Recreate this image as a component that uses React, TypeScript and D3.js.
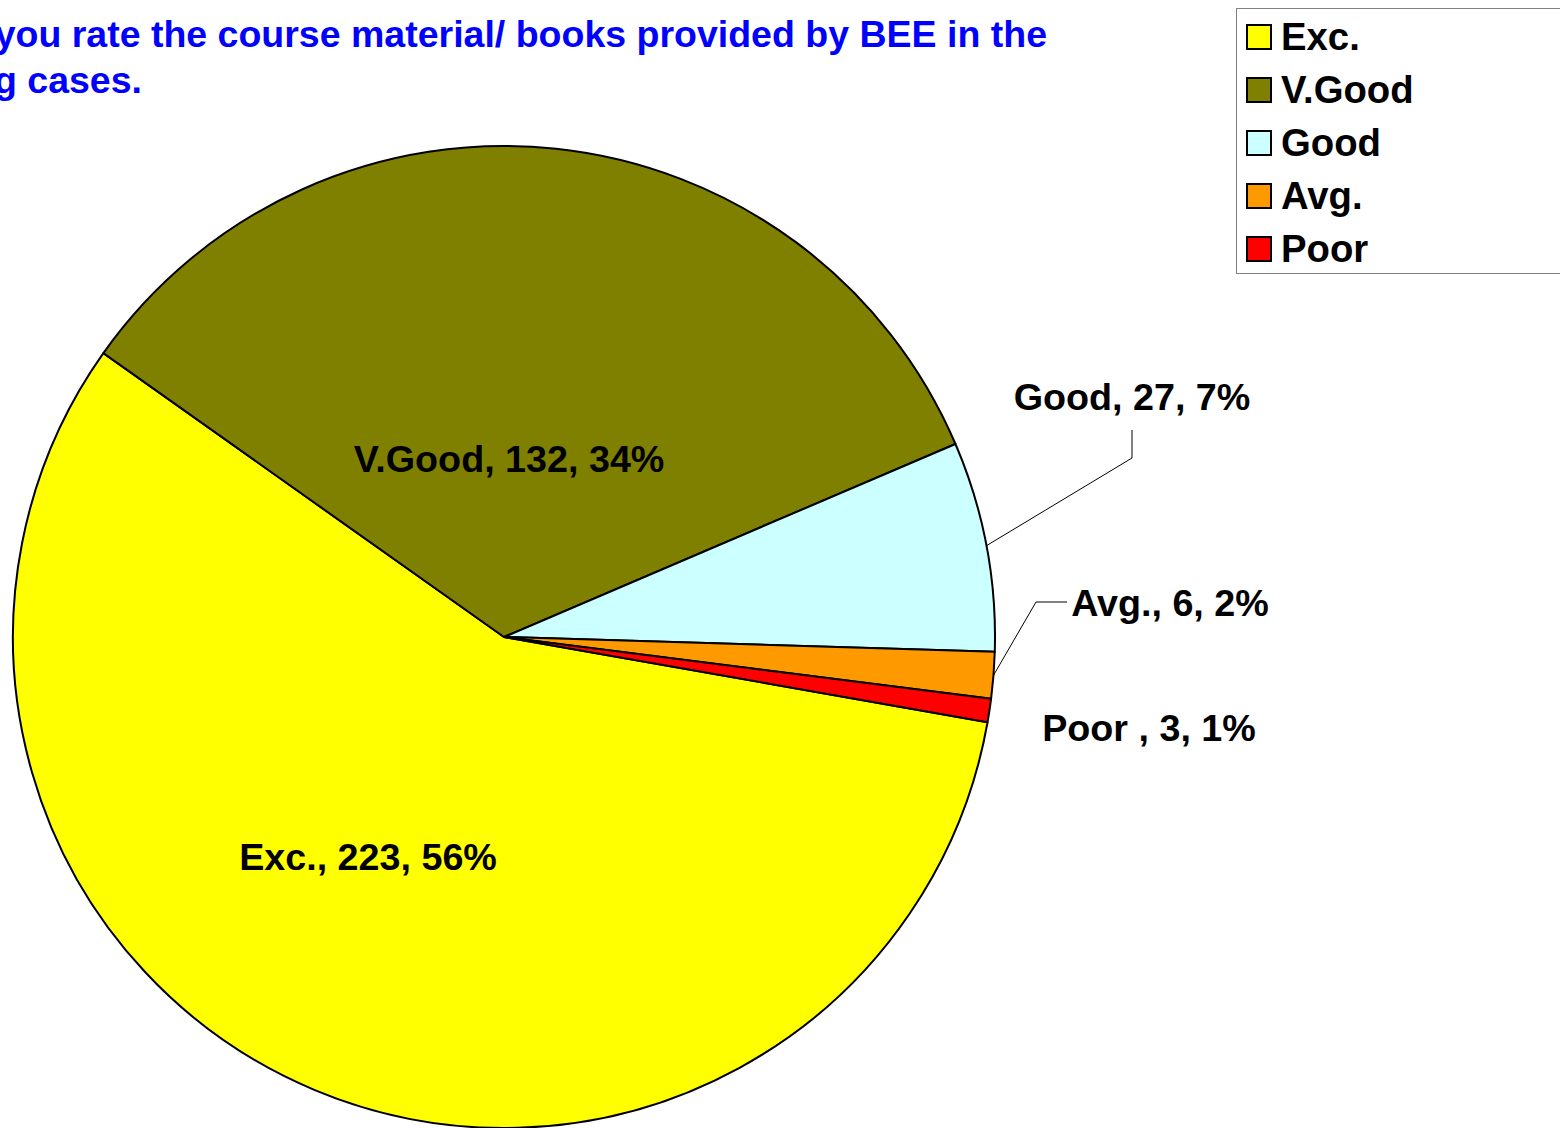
import React, { useEffect, useRef } from 'react';
import * as d3 from 'd3';

// chart data
const categories = ['Exc.', 'V.Good', 'Good', 'Avg.', 'Poor'];
const labelNames = ['Exc.', 'V.Good', 'Good', 'Avg.', 'Poor '];
const counts = [223, 132, 27, 6, 3];
const percents = ['56%', '34%', '7%', '2%', '1%'];
const colors = ['#FFFF00', '#808000', '#CCFFFF', '#FF9900', '#FF0000'];

const titleLine1 = 'How would you rate the course material/ books provided by BEE in the';
const titleLine2 = 'following cases.';

const W = 1560;
const H = 1128;
const FONT = '"Liberation Sans", Arial, sans-serif';

// label placement, relative to the pie centre: [x, baseline]
const labelPos: Record<string, [number, number]> = {
  'Exc.': [-136, 233],
  'V.Good': [5, -165],
  Good: [628, -227],
  'Avg.': [666, -21],
  Poor: [645, 104],
};

const App = () => {
  const chRef = useRef<SVGSVGElement | null>(null);

  useEffect(() => {
    const svg = d3.select(chRef.current);
    svg.selectAll('*').remove();

    const cx = 504;
    const cy = 637;
    const radius = 491;

    // title (runs off the left edge like the original)
    const title = svg
      .append('g')
      .attr('font-family', FONT)
      .attr('font-weight', 700)
      .attr('font-size', 37.5)
      .attr('fill', '#0000FF')
      .attr('text-anchor', 'end');
    title.append('text').attr('x', 1047).attr('y', 47).text(titleLine1);
    title.append('text').attr('x', 142).attr('y', 93).text(titleLine2);

    const data = categories.map((c, i) => ({ name: c, label: labelNames[i], value: counts[i], pct: percents[i], color: colors[i] }));

    const rot = (100 * Math.PI) / 180;
    const pie = d3
      .pie<any>()
      .sort(null)
      .value((d) => d.value)
      .startAngle(rot)
      .endAngle(rot + 2 * Math.PI);
    const arcs = pie(data);

    const arc = d3.arc<any>().innerRadius(0).outerRadius(radius);
    const edge = d3.arc<any>().innerRadius(radius).outerRadius(radius);

    const g = svg.append('g').attr('transform', `translate(${cx},${cy})`);

    g.selectAll('path.slice')
      .data(arcs)
      .enter()
      .append('path')
      .attr('class', 'slice')
      .attr('d', arc)
      .attr('fill', (d) => d.data.color)
      .attr('stroke', '#000')
      .attr('stroke-width', 2)
      .attr('stroke-linejoin', 'round');

    // leader lines
    const line = d3.line();
    arcs.forEach((d) => {
      const p = edge.centroid(d) as [number, number];
      const [lx, ly] = labelPos[d.data.name];
      let pts: [number, number][] | null = null;
      if (d.data.name === 'Good') {
        pts = [p, [lx, ly + 48], [lx, ly + 20]];
      } else if (d.data.name === 'Avg.') {
        const left = lx - 98;
        pts = [p, [left - 36, ly - 14], [left - 5, ly - 14]];
      }
      if (pts) {
        g.append('path')
          .attr('d', line(pts))
          .attr('fill', 'none')
          .attr('stroke', '#000')
          .attr('stroke-width', 1);
      }
    });

    // data labels
    g.selectAll('text.lbl')
      .data(arcs)
      .enter()
      .append('text')
      .attr('class', 'lbl')
      .attr('x', (d) => labelPos[d.data.name][0])
      .attr('y', (d) => labelPos[d.data.name][1])
      .attr('text-anchor', 'middle')
      .attr('font-family', FONT)
      .attr('font-weight', 700)
      .attr('font-size', 37.7)
      .attr('fill', '#000')
      .text((d) => `${d.data.label}, ${d.data.value}, ${d.data.pct}`);

    // legend
    const legend = svg.append('g');
    legend
      .append('rect')
      .attr('x', 1236.5)
      .attr('y', 8.5)
      .attr('width', 400)
      .attr('height', 265)
      .attr('fill', '#fff')
      .attr('stroke', '#808080')
      .attr('stroke-width', 1);

    const rows = legend
      .selectAll('g.item')
      .data(data)
      .enter()
      .append('g')
      .attr('class', 'item')
      .attr('transform', (d, i) => `translate(0,${37 + i * 53})`);
    rows
      .append('rect')
      .attr('x', 1247)
      .attr('y', -12)
      .attr('width', 24)
      .attr('height', 24)
      .attr('fill', (d) => d.color)
      .attr('stroke', '#000')
      .attr('stroke-width', 2);
    rows
      .append('text')
      .attr('x', 1281)
      .attr('y', 13)
      .attr('font-family', FONT)
      .attr('font-weight', 700)
      .attr('font-size', 38.3)
      .attr('fill', '#000')
      .text((d) => d.name);
  }, []);

  return (
    <svg
      ref={chRef}
      width={W}
      height={H}
      style={{ position: 'absolute', left: 0, top: 0, display: 'block', background: '#fff' }}
    />
  );
};

export default App;
